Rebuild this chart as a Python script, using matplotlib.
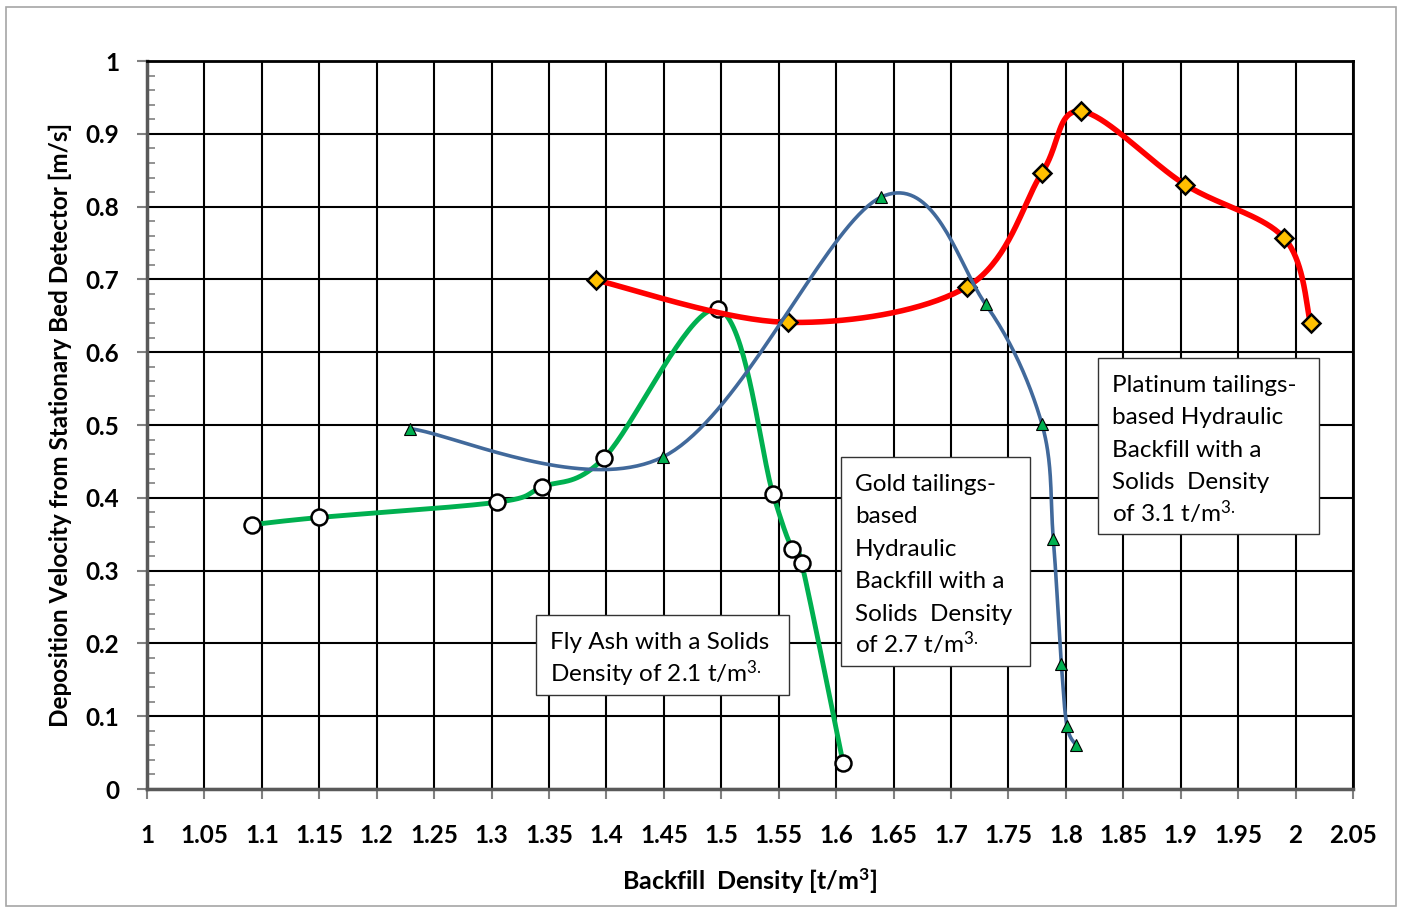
import matplotlib
matplotlib.use('Agg')
import matplotlib.pyplot as plt
import numpy as np
from matplotlib.patches import Rectangle
from matplotlib.ticker import MultipleLocator

plt.rcParams['font.family'] = ['Lato', 'DejaVu Sans']
plt.rcParams['mathtext.fontset'] = 'custom'
plt.rcParams['mathtext.rm'] = 'Lato'
plt.rcParams['mathtext.bf'] = 'Lato:bold'
plt.rcParams['mathtext.default'] = 'regular'

# fly ash, solids density 2.1
fly_x = [1.091, 1.150, 1.305, 1.344, 1.398, 1.497, 1.545, 1.5615, 1.570, 1.606]
fly_y = [0.363, 0.373, 0.394, 0.415, 0.455, 0.659, 0.405, 0.330, 0.310, 0.036]

# gold tailings, solids density 2.7
gold_x = [1.229, 1.449, 1.639, 1.730, 1.779, 1.789, 1.796, 1.801, 1.809]
gold_y = [0.495, 0.456, 0.813, 0.666, 0.502, 0.344, 0.172, 0.086, 0.060]

# platinum tailings, solids density 3.1
plat_x = [1.391, 1.558, 1.714, 1.779, 1.813, 1.904, 1.990, 2.013]
plat_y = [0.699, 0.641, 0.690, 0.846, 0.931, 0.830, 0.757, 0.640]

x_ticks = [1, 1.05, 1.1, 1.15, 1.2, 1.25, 1.3, 1.35, 1.4, 1.45, 1.5, 1.55, 1.6,
           1.65, 1.7, 1.75, 1.8, 1.85, 1.9, 1.95, 2, 2.05]
y_ticks = [0, 0.1, 0.2, 0.3, 0.4, 0.5, 0.6, 0.7, 0.8, 0.9, 1]

fly_note = ['Fly Ash with a Solids', 'Density of 2.1 t/m$^{3.}$']
gold_note = ['Gold tailings-', 'based', 'Hydraulic', 'Backfill with a',
             'Solids  Density', 'of 2.7 t/m$^{3.}$']
plat_note = ['Platinum tailings-', 'based Hydraulic', 'Backfill with a',
             'Solids  Density', 'of 3.1 t/m$^{3.}$']


def smooth(xs, ys, sx=1148.6, sy=728.0, n=40):
    # excel style bezier smoothing, done in screen-like units
    p = np.column_stack([np.array(xs) * sx, np.array(ys) * sy])
    pts = np.vstack([p[0], p, p[-1]])
    out = []
    for i in range(1, len(pts) - 2):
        p0, p1, p2, p3 = pts[i - 1], pts[i], pts[i + 1], pts[i + 2]
        c1 = p1 + (p2 - p0) / 6
        c2 = p2 - (p3 - p1) / 6
        t = np.linspace(0, 1, n)[:, None]
        seg = ((1 - t) ** 3 * p1 + 3 * (1 - t) ** 2 * t * c1
               + 3 * (1 - t) * t ** 2 * c2 + t ** 3 * p2)
        out.append(seg)
    out = np.vstack(out)
    return out[:, 0] / sx, out[:, 1] / sy


def note(ax, x0, x1, top, bottom, lines):
    ax.add_patch(Rectangle((x0, bottom), x1 - x0, top - bottom, facecolor='white',
                           edgecolor='#333333', linewidth=1, zorder=10))
    for i, s in enumerate(lines):
        ax.annotate(s, xy=(x0, top), xytext=(10, -24.5 - i * 23.3), textcoords='offset points',
                    fontsize=17.5, va='baseline', ha='left', zorder=11)


fig = plt.figure(figsize=(14.03, 9.11), dpi=100)
ax = fig.add_axes([0.1048, 0.1339, 0.8596, 0.7991])

fig.patches.append(Rectangle((0.004, 0.005), 0.991, 0.987, transform=fig.transFigure,
                             fill=False, edgecolor='#a6a6a6', linewidth=1.2))

ax.set_xlim(1, 2.05)
ax.set_ylim(0, 1)
ax.set_xticks(x_ticks)
ax.set_xticklabels(['%g' % v for v in x_ticks])
ax.set_yticks(y_ticks)
ax.set_yticklabels(['%g' % v for v in y_ticks])
ax.yaxis.set_minor_locator(MultipleLocator(0.02))
ax.grid(True, which='major', color='black', linewidth=1.5)
ax.set_axisbelow(True)

ax.tick_params(axis='both', which='major', direction='out', length=7, width=1.5,
               color='#808080', labelsize=17.5)
ax.tick_params(axis='x', pad=18)
ax.tick_params(axis='y', pad=13)
ax.tick_params(axis='y', which='minor', direction='in', length=6, width=1.2, color='#808080')
for lab in ax.get_xticklabels() + ax.get_yticklabels():
    lab.set_fontweight('bold')

for side in ['top', 'right']:
    ax.spines[side].set_color('black')
    ax.spines[side].set_linewidth(2)
for side in ['left', 'bottom']:
    ax.spines[side].set_color('#595959')
    ax.spines[side].set_linewidth(2.5)

ax.set_xlabel(r'Backfill  Density [t/m$\mathbf{^3}$]', fontsize=18, fontweight='bold', labelpad=14)
ax.set_ylabel('Deposition Velocity from Stationary Bed Detector [m/s]', fontsize=17.5,
              fontweight='bold', labelpad=10)

sx, sy = smooth(fly_x, fly_y)
ax.plot(sx, sy, color='#00b050', linewidth=3.5, zorder=3, clip_on=False)
ax.plot(fly_x, fly_y, 'o', markersize=11.5, markerfacecolor='white', markeredgecolor='black',
        markeredgewidth=1.8, zorder=4, clip_on=False)

sx, sy = smooth(plat_x, plat_y)
ax.plot(sx, sy, color='#ff0000', linewidth=4, zorder=5, clip_on=False)
ax.plot(plat_x, plat_y, 'D', markersize=9.5, markerfacecolor='#ffc000', markeredgecolor='black',
        markeredgewidth=1.8, zorder=6, clip_on=False)

sx, sy = smooth(gold_x, gold_y)
ax.plot(sx, sy, color='#41699b', linewidth=2.6, zorder=7, clip_on=False)
ax.plot(gold_x, gold_y, '^', markersize=9, markerfacecolor='#00b050', markeredgecolor='black',
        markeredgewidth=0.8, zorder=8, clip_on=False)

note(ax, 1.3387, 1.5590, 0.2390, 0.1291, fly_note)
note(ax, 1.6043, 1.7689, 0.4560, 0.1690, gold_note)
note(ax, 1.8280, 2.0204, 0.5920, 0.3503, plat_note)

fig.savefig('out.png', dpi=100)
